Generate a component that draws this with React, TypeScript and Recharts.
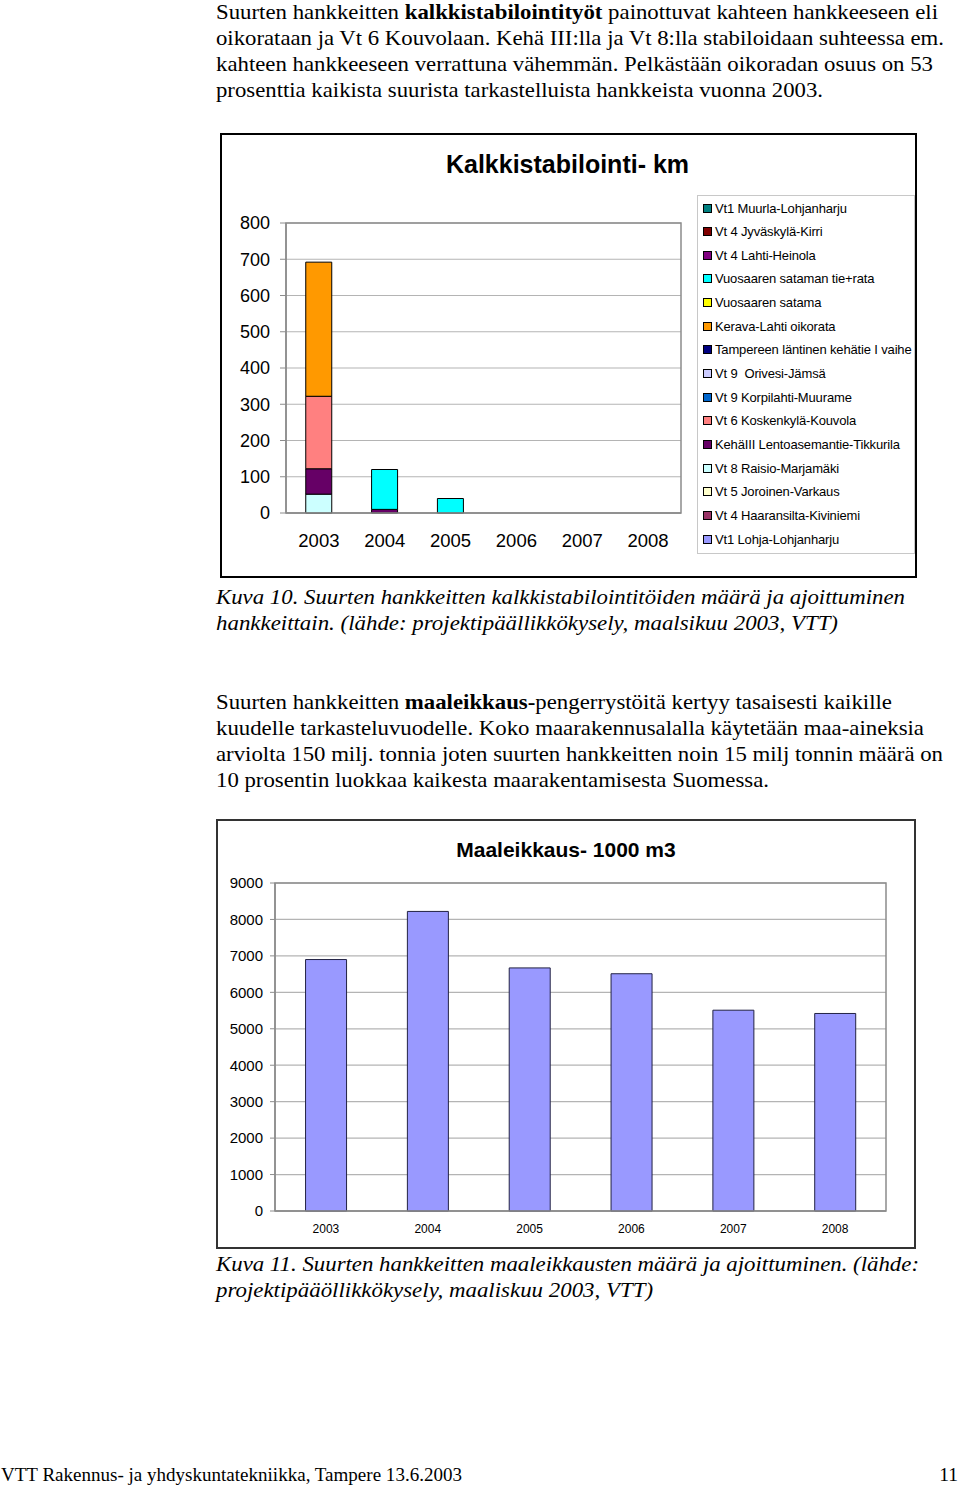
import React from 'react';
import { BarChart, Bar, XAxis, YAxis, CartesianGrid, Legend, ReferenceArea } from 'recharts';

// ---------- data ----------
const years = ['2003', '2004', '2005', '2006', '2007', '2008'];

// legend order (top to bottom); stacking order is the reverse
const stabNames = [
  'Vt1 Muurla-Lohjanharju',
  'Vt 4 Jyväskylä-Kirri',
  'Vt 4 Lahti-Heinola',
  'Vuosaaren sataman tie+rata',
  'Vuosaaren satama',
  'Kerava-Lahti oikorata',
  'Tampereen läntinen kehätie I vaihe',
  'Vt 9  Orivesi-Jämsä',
  'Vt 9 Korpilahti-Muurame',
  'Vt 6 Koskenkylä-Kouvola',
  'KehäIII Lentoasemantie-Tikkurila',
  'Vt 8 Raisio-Marjamäki',
  'Vt 5 Joroinen-Varkaus',
  'Vt 4 Haaransilta-Kiviniemi',
  'Vt1 Lohja-Lohjanharju',
];
const stabColors = [
  '#008080', '#800000', '#800080', '#00FFFF', '#FFFF00',
  '#FF9900', '#000080', '#CCCCFF', '#0066CC', '#FF8080',
  '#660066', '#CCFFFF', '#FFFFCC', '#993366', '#9999FF',
];
const stabValues = [
  [0, 0, 0, 0, 0, 0],
  [0, 0, 0, 0, 0, 0],
  [0, 0, 0, 0, 0, 0],
  [0, 110, 40, 0, 0, 0],
  [0, 0, 0, 0, 0, 0],
  [370, 0, 0, 0, 0, 0],
  [0, 0, 0, 0, 0, 0],
  [0, 0, 0, 0, 0, 0],
  [0, 0, 0, 0, 0, 0],
  [200, 0, 0, 0, 0, 0],
  [70, 10, 0, 0, 0, 0],
  [52, 0, 0, 0, 0, 0],
  [0, 0, 0, 0, 0, 0],
  [0, 0, 0, 0, 0, 0],
  [0, 0, 0, 0, 0, 0],
];
const stabTicks = [0, 100, 200, 300, 400, 500, 600, 700, 800];

const cutValues = [6900, 8220, 6670, 6510, 5510, 5420];
const cutTicks = [0, 1000, 2000, 3000, 4000, 5000, 6000, 7000, 8000, 9000];

const boundaryTicks = [0, 1, 2, 3, 4, 5, 6];

const stabData = years.map((y, i) => {
  const row: Record<string, any> = { year: y };
  stabNames.forEach((_, k) => {
    const v = stabValues[k][i];
    row['s' + k] = v > 0 ? v : null;
  });
  return row;
});
const cutData = years.map((y, i) => ({ year: y, value: cutValues[i] }));

// ---------- page text ----------
const SERIF = "'Liberation Serif', 'Times New Roman', serif";
const SANS = "'Liberation Sans', Arial, sans-serif";

const StabLegend = () => (
  <div
    style={{
      position: 'relative',
      width: 218,
      height: 359,
      border: '1px solid #c8c8c8',
      boxSizing: 'border-box',
      background: '#fff',
      fontFamily: SANS,
      fontSize: 13,
      color: '#000',
    }}
  >
    {stabNames.map((n, i) => (
      <div
        key={n}
        style={{
          position: 'absolute',
          left: 5,
          top: 3.5 + i * 23.65,
          height: 17,
          display: 'flex',
          alignItems: 'center',
          whiteSpace: 'pre',
          letterSpacing: -0.15,
        }}
      >
        <span
          style={{
            display: 'inline-block',
            width: 7,
            height: 7,
            background: stabColors[i],
            border: '1px solid #000',
          }}
        />
        <span style={{ marginLeft: 3 }}>{n}</span>
      </div>
    ))}
  </div>
);

const axisGray = '#8c8c8c';
const gridGray = '#b4b4b4';

function StabChart() {
  const order = stabNames.map((_, k) => k).reverse();
  return (
    <BarChart
      width={695}
      height={444}
      data={stabData}
      margin={{ top: 89, right: 235, bottom: 35, left: 0 }}
      barCategoryGap="30%"
    >
      <CartesianGrid vertical={false} stroke={gridGray} strokeWidth={1.2} />
      <XAxis
        xAxisId="b"
        type="number"
        domain={[0, 6]}
        ticks={boundaryTicks}
        tick={false}
        axisLine={false}
        tickLine={{ stroke: axisGray }}
        tickSize={6}
        height={0}
      />
      <XAxis
        dataKey="year"
        axisLine={{ stroke: axisGray, strokeWidth: 1.5 }}
        tickLine={false}
        tickSize={0}
        tickMargin={21}
        height={30}
        tick={{ fill: '#000', fontSize: 18.5, fontFamily: SANS }}
        interval={0}
      />
      <YAxis
        domain={[0, 800]}
        ticks={stabTicks}
        width={65}
        axisLine={{ stroke: axisGray, strokeWidth: 1.5 }}
        tickLine={{ stroke: axisGray }}
        tickSize={6}
        tickMargin={10}
        tick={{ fill: '#000', fontSize: 18, fontFamily: SANS }}
      />
      <ReferenceArea y1={0} y2={800} fill="none" stroke={axisGray} strokeWidth={1.5} />
      {order.map((k) => (
        <Bar
          key={k}
          dataKey={'s' + k}
          name={stabNames[k]}
          stackId="a"
          fill={stabColors[k]}
          stroke="#000"
          strokeWidth={1}
          isAnimationActive={false}
        />
      ))}
      <Legend
        layout="vertical"
        align="center"
        verticalAlign="middle"
        wrapperStyle={{ left: 476, top: 61, width: 218, height: 359 }}
        content={() => <StabLegend />}
      />
    </BarChart>
  );
}

function CutChart() {
  return (
    <BarChart
      width={699}
      height={429}
      data={cutData}
      margin={{ top: 64, right: 29, bottom: 12, left: 0 }}
      barCategoryGap="30%"
    >
      <CartesianGrid vertical={false} stroke={gridGray} strokeWidth={1.2} />
      <XAxis
        xAxisId="b"
        type="number"
        domain={[0, 6]}
        ticks={boundaryTicks}
        tick={false}
        axisLine={false}
        tickLine={{ stroke: axisGray }}
        tickSize={5}
        height={0}
      />
      <XAxis
        dataKey="year"
        axisLine={{ stroke: axisGray, strokeWidth: 1.5 }}
        tickLine={false}
        tickSize={0}
        tickMargin={13}
        height={25}
        tick={{ fill: '#000', fontSize: 12, fontFamily: SANS }}
        interval={0}
      />
      <YAxis
        domain={[0, 9000]}
        ticks={cutTicks}
        width={59}
        axisLine={{ stroke: axisGray, strokeWidth: 1.5 }}
        tickLine={{ stroke: axisGray }}
        tickSize={5}
        tickMargin={7}
        tick={{ fill: '#000', fontSize: 15, fontFamily: SANS }}
      />
      <ReferenceArea y1={0} y2={9000} fill="none" stroke={axisGray} strokeWidth={1.5} />
      <Bar
        dataKey="value"
        name="Maaleikkaus- 1000 m3"
        fill="#9999FF"
        stroke="#222244"
        strokeWidth={1}
        isAnimationActive={false}
      />
    </BarChart>
  );
}

type Line = { y: number; w: number; italic?: boolean; parts: (string | { b: string })[] };

const textLines: Line[] = [
  { y: 19, w: 722, parts: ['Suurten hankkeitten ', { b: 'kalkkistabilointityöt' }, ' painottuvat kahteen hankkeeseen eli'] },
  { y: 45, w: 728, parts: ['oikorataan ja Vt 6 Kouvolaan. Kehä III:lla ja Vt 8:lla stabiloidaan suhteessa em.'] },
  { y: 71, w: 717, parts: ['kahteen hankkeeseen verrattuna vähemmän. Pelkästään oikoradan osuus on 53'] },
  { y: 97, w: 607, parts: ['prosenttia kaikista suurista tarkastelluista hankkeista vuonna 2003.'] },
  { y: 604, w: 689, italic: true, parts: ['Kuva 10. Suurten hankkeitten kalkkistabilointitöiden määrä ja ajoittuminen'] },
  { y: 630, w: 622, italic: true, parts: ['hankkeittain. (lähde: projektipäällikkökysely, maalsikuu 2003, VTT)'] },
  { y: 709, w: 676, parts: ['Suurten hankkeitten ', { b: 'maaleikkaus-' }, 'pengerrystöitä kertyy tasaisesti kaikille'] },
  { y: 735, w: 708, parts: ['kuudelle tarkasteluvuodelle. Koko maarakennusalalla käytetään maa-aineksia'] },
  { y: 761, w: 727, parts: ['arviolta 150 milj. tonnia joten suurten hankkeitten noin 15 milj tonnin määrä on'] },
  { y: 787, w: 553, parts: ['10 prosentin luokkaa kaikesta maarakentamisesta Suomessa.'] },
  { y: 1271, w: 703, italic: true, parts: ['Kuva 11. Suurten hankkeitten maaleikkausten määrä ja ajoittuminen. (lähde:'] },
  { y: 1297, w: 437, italic: true, parts: ['projektipääöllikkökysely, maaliskuu 2003, VTT)'] },
];

function PageText() {
  return (
    <svg width={960} height={1486} style={{ position: 'absolute', left: 0, top: 0 }}>
      {textLines.map((l, i) => (
        <text
          key={i}
          x={216}
          y={l.y}
          textLength={l.w}
          lengthAdjust="spacingAndGlyphs"
          fontFamily={SERIF}
          fontSize={l.italic ? 22 : 21.5}
          fontStyle={l.italic ? 'italic' : 'normal'}
          fill="#000"
        >
          {l.parts.map((p, j) =>
            typeof p === 'string' ? (
              <tspan key={j}>{p}</tspan>
            ) : (
              <tspan key={j} fontWeight="bold">
                {p.b}
              </tspan>
            )
          )}
        </text>
      ))}
      <text x={1} y={1481} textLength={461} lengthAdjust="spacingAndGlyphs" fontFamily={SERIF} fontSize={19.5} fill="#000">
        VTT Rakennus- ja yhdyskuntatekniikka, Tampere 13.6.2003
      </text>
      <text x={958} y={1481} textAnchor="end" fontFamily={SERIF} fontSize={19.5} fill="#000">
        11
      </text>
    </svg>
  );
}

export default function App() {
  return (
    <div style={{ position: 'absolute', left: 0, top: 0, width: 960, height: 1486, background: '#fff' }}>
      <PageText />

      {/* Figure 10 */}
      <div
        style={{
          position: 'absolute',
          left: 220,
          top: 133,
          width: 697,
          height: 445,
          border: '2px solid #000',
          boxSizing: 'border-box',
        }}
      />
      <div style={{ position: 'absolute', left: 221, top: 134 }}>
        <StabChart />
      </div>
      <div
        style={{
          position: 'absolute',
          left: 221,
          top: 150,
          width: 695,
          textAlign: 'center',
        }}
      >
        <span
          style={{
            display: 'inline-block',
            fontFamily: SANS,
            fontWeight: 'bold',
            fontSize: 25,
            position: 'relative',
            left: -1,
          }}
        >
          Kalkkistabilointi- km
        </span>
      </div>

      {/* Figure 11 */}
      <div
        style={{
          position: 'absolute',
          left: 216,
          top: 819,
          width: 700,
          height: 430,
          border: '2px solid #333',
          boxSizing: 'border-box',
        }}
      />
      <div style={{ position: 'absolute', left: 216, top: 819 }}>
        <CutChart />
      </div>
      <div
        style={{
          position: 'absolute',
          left: 216,
          top: 838,
          width: 700,
          textAlign: 'center',
          fontFamily: SANS,
          fontWeight: 'bold',
          fontSize: 21,
        }}
      >
        Maaleikkaus- 1000 m3
      </div>
    </div>
  );
}
